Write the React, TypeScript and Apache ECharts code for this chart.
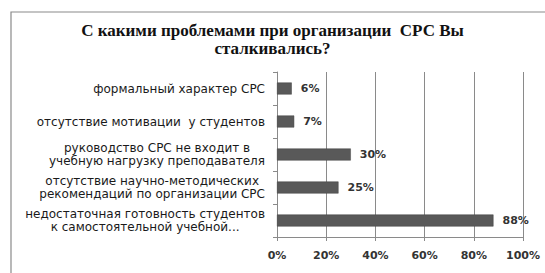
import React, { useEffect, useRef } from "react";
import * as echarts from "echarts";

const titleText = "С какими проблемами при организации  СРС Вы\nсталкивались?";
const categories = [
  ["формальный характер СРС"],
  ["отсутствие мотивации  у студентов"],
  ["руководство СРС не входит в", "учебную нагрузку преподавателя"],
  ["отсутствие научно-методических", "рекомендаций по организации СРС"],
  ["недостаточная готовность студентов", "к самостоятельной учебной..."],
];
const values = [6, 7, 30, 25, 88];
const xTicks = [0, 20, 40, 60, 80, 100];

const LABEL_FONT = "DejaVu Sans";
const LABEL_SIZE = 12;

function measure(text: string): number {
  const c = document.createElement("canvas");
  const ctx = c.getContext("2d");
  if (!ctx) return text.length * 7;
  ctx.font = `${LABEL_SIZE}px "${LABEL_FONT}"`;
  return ctx.measureText(text).width;
}

export default function App() {
  const ref = useRef<HTMLDivElement>(null);
  useEffect(() => {
    if (!ref.current) return;
    const chart = echarts.init(ref.current, null, { renderer: "svg" });
    const rich: Record<string, any> = {};
    categories.forEach((lines, i) => {
      const widths = lines.map(measure);
      const maxW = Math.max(...widths);
      lines.forEach((_, j) => {
        const pad = Math.max(0, (maxW - widths[j]) / 2);
        rich["l" + i + "_" + j] = {
          padding: [0, pad, 0, 0],
          fontFamily: LABEL_FONT,
          fontSize: LABEL_SIZE,
          lineHeight: 13,
          color: "#1a1a1a",
        };
      });
    });
    chart.setOption({
      animation: false,
      backgroundColor: "#fff",
      graphic: [
        {
          type: "rect",
          shape: { x: 11, y: 12, width: 560, height: 300 },
          style: { fill: "none", stroke: "#8a8a8a", lineWidth: 1.2 },
          z: -1,
        },
      ],
      title: {
        text: titleText,
        left: "center",
        top: 16,
        textStyle: {
          fontFamily: "Liberation Serif",
          fontWeight: "bold",
          fontSize: 17,
          lineHeight: 18,
          color: "#111",
        },
      },
      grid: { left: 277, right: 22, top: 72, bottom: 36, containLabel: false },
      xAxis: {
        type: "value",
        min: xTicks[0],
        max: xTicks[xTicks.length - 1],
        interval: 20,
        axisLine: { show: true, lineStyle: { color: "#8a8a8a" } },
        axisTick: { show: true, length: 4, lineStyle: { color: "#8a8a8a" } },
        splitLine: { show: true, lineStyle: { color: "#8a8a8a", width: 1 } },
        axisLabel: {
          formatter: (v: number) => v + "%",
          fontFamily: LABEL_FONT,
          fontSize: 11,
          fontWeight: "bold",
          color: "#333",
          margin: 13,
        },
      },
      yAxis: {
        type: "category",
        inverse: true,
        data: categories.map((c) => c.join("\n")),
        axisLine: { show: true, lineStyle: { color: "#8a8a8a" } },
        axisTick: { show: true, length: 4, alignWithLabel: false, lineStyle: { color: "#8a8a8a" } },
        axisLabel: {
          margin: 12,
          formatter: (v: string, idx: number) =>
            v
              .split("\n")
              .map((l, j) => "{l" + idx + "_" + j + "|" + l + "}")
              .join("\n"),
          rich,
        },
      },
      series: [
        {
          type: "bar",
          data: values,
          barWidth: 12,
          itemStyle: { color: "#595959", borderColor: "#444", borderWidth: 0.5 },
          label: {
            show: true,
            position: "right",
            distance: 9,
            formatter: (p: any) => p.value + "%",
            fontFamily: LABEL_FONT,
            fontSize: 11,
            fontWeight: "bold",
            color: "#333",
          },
        },
      ],
    });
    return () => chart.dispose();
  }, []);
  return (
    <div
      ref={ref}
      style={{ position: "fixed", left: 0, top: 0, width: 545, height: 273 }}
    />
  );
}
